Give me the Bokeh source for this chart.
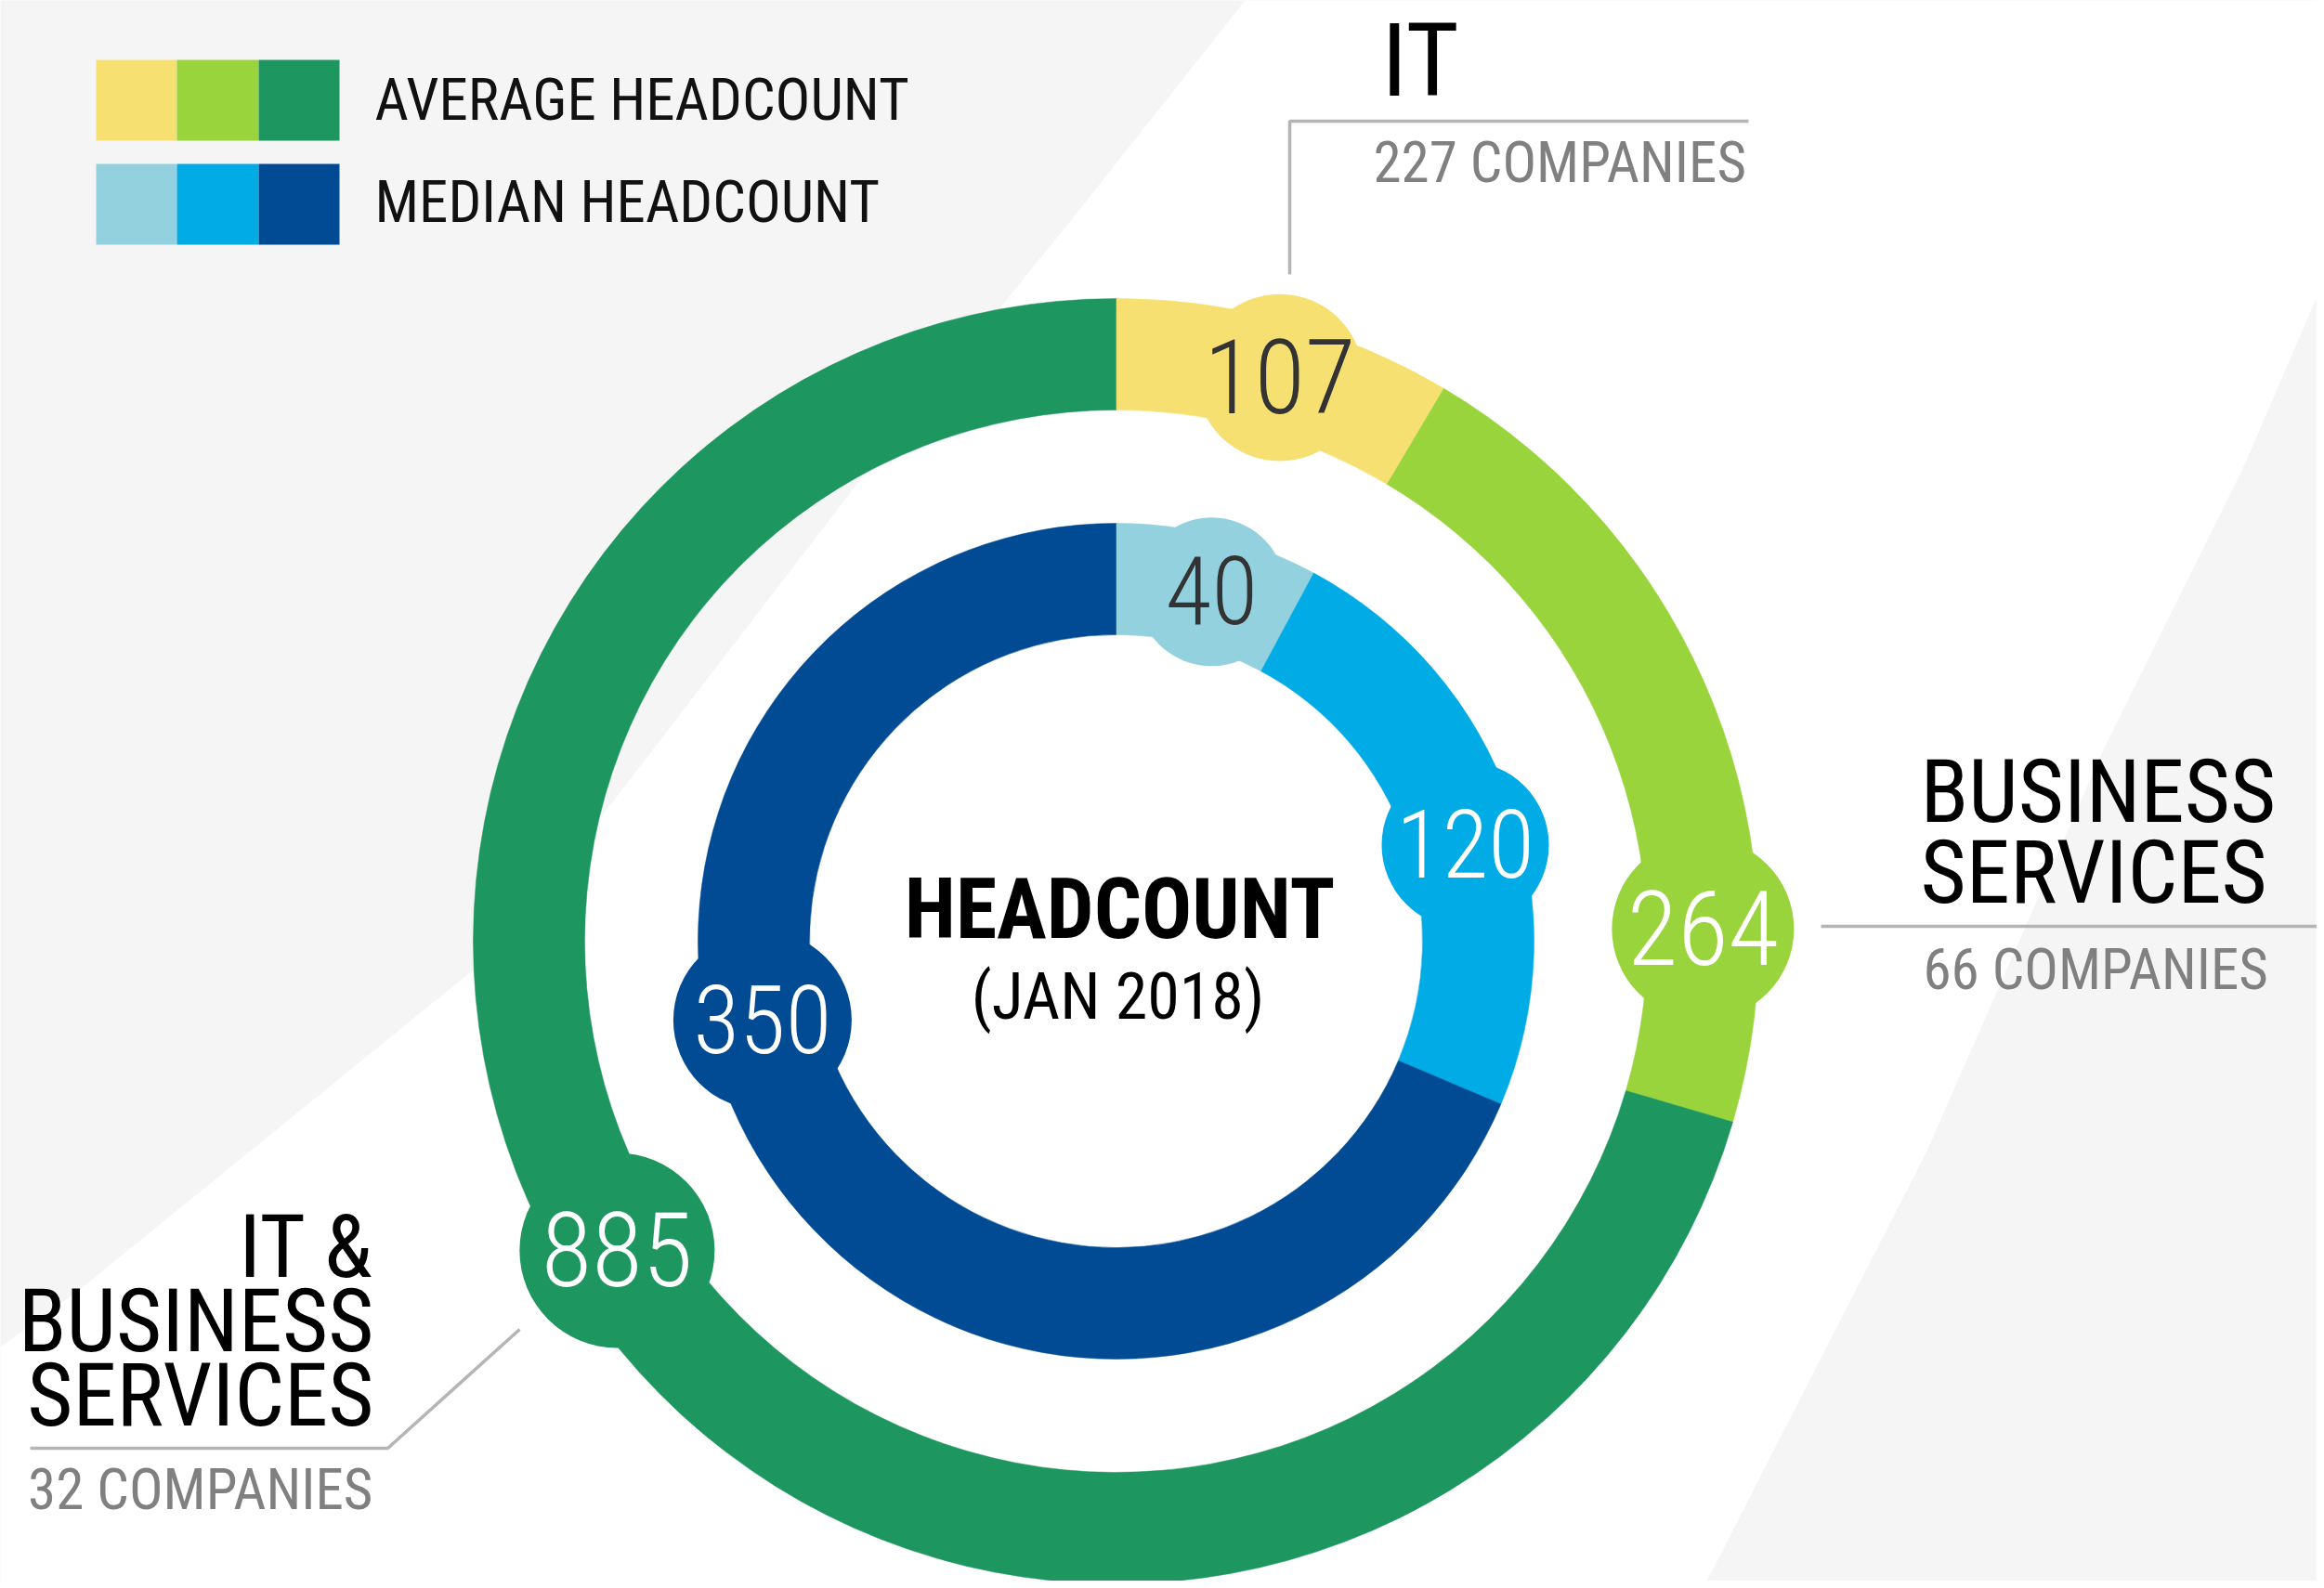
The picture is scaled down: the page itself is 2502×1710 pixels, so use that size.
import numpy as np
from bokeh.plotting import figure
from bokeh.models import Range1d
from bokeh.core.properties import value
from bokeh.embed import file_html
from bokeh.resources import INLINE

# ---------------- data ----------------
sectors = ["IT", "BUSINESS SERVICES", "IT & BUSINESS SERVICES"]
companies = [227, 66, 32]
average_headcount = [107, 264, 885]
median_headcount = [40, 120, 350]
average_colors = ["#f6e072", "#9ad43c", "#1e9660"]
median_colors = ["#93d1df", "#00abe6", "#004b93"]
legend_labels = ["AVERAGE HEADCOUNT", "MEDIAN HEADCOUNT"]
center_title = "HEADCOUNT"
center_subtitle = "(JAN 2018)"

# ---------------- layout ----------------
W, H = 2494, 1702
FONT = "'Roboto Condensed', 'DejaVu Sans Condensed', sans-serif"
NUM_FONT = "'Roboto Condensed Light', 'Roboto Condensed', 'DejaVu Sans Condensed', sans-serif"
SHIFT = 0.37   # baseline correction (fraction of font size)
CAP = 0.711


def X(px):
    return px


def Y(py):
    return H - py


def BY(py, size):
    """data y for a text whose baseline should sit at page y = py"""
    return Y(py) + SHIFT * size


p = figure(width=W, height=H, x_range=Range1d(0, W), y_range=Range1d(0, H),
           output_backend="svg", toolbar_location=None, min_border=0)
p.axis.visible = False
p.grid.visible = False
p.outline_line_color = None
p.background_fill_color = "#f5f5f5"
p.border_fill_color = "#f5f5f5"

# background light band
bg_pts = [(0, 1450), (83, 1390), (510, 1043), (650, 875), (925, 517), (1150, 240),
          (1340, 0), (2502, 0), (2502, 300), (2416, 500), (2263, 809), (2073, 1241),
          (1833, 1710), (0, 1710)]
p.patch([X(a) for a, b in bg_pts], [Y(b) for a, b in bg_pts], color="#ffffff", line_width=0)

CX, CY = X(1201), Y(1013)
rings = [
    (average_headcount, average_colors, 572, 692, [16.2, 88.8, 238.2], [90, 98, 105], 112),
    (median_headcount, median_colors, 330, 450, [15.3, 74.6, 257.4], [80, 90, 96], 102),
]

for vals, cols, r_in, r_out, bearings, bub_r, fsize in rings:
    v = np.array(vals, dtype=float)
    cum = np.concatenate([[0.0], np.cumsum(v)]) / v.sum()
    start = np.pi / 2 - cum[:-1] * 2 * np.pi
    end = np.pi / 2 - cum[1:] * 2 * np.pi
    p.annular_wedge(x=CX, y=CY, inner_radius=r_in, outer_radius=r_out,
                    start_angle=list(start), end_angle=list(end), direction="clock",
                    fill_color=cols, line_color=cols, line_width=0.5)
    r_mid = (r_in + r_out) / 2
    b = np.radians(bearings)
    bx = CX + r_mid * np.sin(b)
    by = CY + r_mid * np.cos(b)
    p.circle(x=list(bx), y=list(by), radius=bub_r, fill_color=cols, line_color=None)
    txt_cols = ["#333333" if c in ("#f6e072", "#93d1df") else "#ffffff" for c in cols]
    p.text(x=list(bx), y=list(by - CAP * fsize / 2 + SHIFT * fsize),
           text=[str(x) for x in vals],
           text_font=value(NUM_FONT), text_font_size=value(f"{fsize}px"),
           text_color=txt_cols, text_align="center", text_baseline="alphabetic")

# legend
box_x = [103, 190, 278, 365]
for cols, top, bot in [(average_colors, 64, 151), (median_colors, 176, 263)]:
    p.quad(left=[X(a) for a in box_x[:-1]], right=[X(a) for a in box_x[1:]],
           top=Y(top), bottom=Y(bot), fill_color=cols, line_color=None)
p.text(x=[X(403), X(403)], y=[BY(130, 63), BY(240, 63)], text=legend_labels,
       text_font=value(FONT), text_font_size=value("63px"), text_color="#111111",
       text_baseline="alphabetic")

LINE = "#b5b5b5"
GRAY = "#808080"

# IT label
p.text(x=[X(1487)], y=[BY(106, 110)], text=[sectors[0]], text_font=value(FONT),
       text_font_size=value("110px"), text_color="#000000", text_baseline="alphabetic")
p.line([X(1388), X(1388), X(1882)], [Y(295), Y(130), Y(130)], line_color=LINE, line_width=3.5)
p.text(x=[X(1478)], y=[BY(197, 61)], text=[f"{companies[0]} COMPANIES"], text_font=value(FONT),
       text_font_size=value("61px"), text_color=GRAY, text_baseline="alphabetic")

# Business services label
p.text(x=[X(2067), X(2067)], y=[BY(887, 95), BY(974, 95)], text=sectors[1].split(" "),
       text_font=value(FONT), text_font_size=value("95px"), text_color="#000000",
       text_baseline="alphabetic")
p.line([X(1960), X(2494)], [Y(997), Y(997)], line_color=LINE, line_width=3.5)
p.text(x=[X(2070)], y=[BY(1066, 61)], text=[f"{companies[1]} COMPANIES"], text_font=value(FONT),
       text_font_size=value("61px"), text_color=GRAY, text_baseline="alphabetic")

# IT & Business services label
p.text(x=[X(402)] * 3, y=[BY(1377, 95), BY(1457, 95), BY(1537, 95)],
       text=["IT &", "BUSINESS", "SERVICES"],
       text_font=value(FONT), text_font_size=value("95px"), text_color="#000000",
       text_align="right", text_baseline="alphabetic")
p.line([X(32), X(417), X(559)], [Y(1559), Y(1559), Y(1431)], line_color=LINE, line_width=3.5)
p.text(x=[X(401)], y=[BY(1626, 61)], text=[f"{companies[2]} COMPANIES"], text_font=value(FONT),
       text_font_size=value("61px"), text_color=GRAY, text_align="right",
       text_baseline="alphabetic")

# centre
p.text(x=[X(1205)], y=[BY(1012, 90)], text=[center_title], text_font=value(FONT),
       text_font_size=value("90px"), text_font_style="bold", text_color="#000000",
       text_align="center", text_baseline="alphabetic")
p.text(x=[X(1203)], y=[BY(1098, 70)], text=[center_subtitle], text_font=value(FONT),
       text_font_size=value("70px"), text_color="#000000",
       text_align="center", text_baseline="alphabetic")

open("out.html", "w").write(file_html(p, INLINE))
